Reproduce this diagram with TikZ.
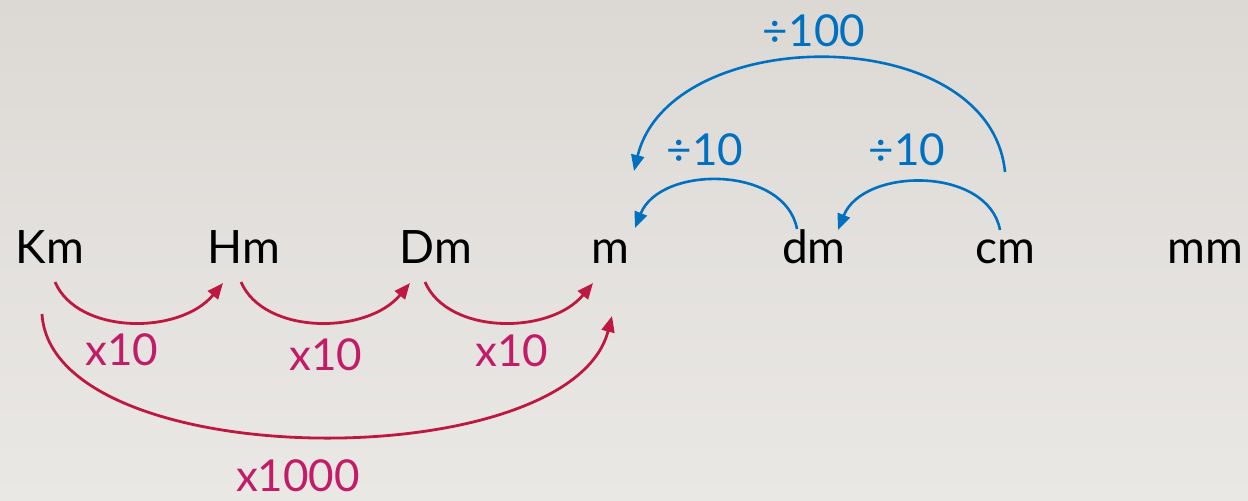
\documentclass[tikz,border=0pt]{standalone}
\usepackage{fontspec}
\setmainfont{Lato}
\usetikzlibrary{calc,arrows.meta}
\definecolor{arrred}{RGB}{190,24,64}
\definecolor{txtred}{RGB}{194,28,104}
\definecolor{myblue}{RGB}{0,112,192}
\definecolor{bgtop}{RGB}{220,217,213}
\definecolor{bgbot}{RGB}{234,232,229}
\tikzset{
  unit/.style={anchor=base, inner sep=0pt, font=\fontsize{23}{26}\selectfont, text=black},
  redlbl/.style={inner sep=0pt, font=\fontsize{22}{26}\selectfont, text=txtred},
  bluelbl/.style={inner sep=0pt, font=\fontsize{22}{26}\selectfont, text=myblue},
  redarr/.style={draw=arrred, line width=1.4pt, -{Triangle[length=8pt,width=6.5pt]}},
  bluearr/.style={draw=myblue, line width=1.3pt, -{Triangle[length=8pt,width=6.5pt]}}
}
\begin{document}
\begin{tikzpicture}[x=0.5pt,y=-0.5pt]
\useasboundingbox (0,0) rectangle (1248,500);
\shade[top color=bgtop, bottom color=bgbot] (0,0) rectangle (1248,500);
% units
\node[unit] (Km) at (50,263) {Km};
\node[unit] (Hm) at (244,263) {Hm};
\node[unit] (Dm) at (436,263) {Dm};
\node[unit] (m) at (610,263) {m};
\node[unit] (dm) at (814,263) {dm};
\node[unit] (cm) at (1005,263) {cm};
\node[unit] (mm) at (1205,263) {mm};
% red arrows
\draw[redarr] ($(Km.base)+(5,19)$) .. controls +(23,53) and +(-43,52) .. ($(Hm.base)+(-21,20)$);
\draw[redarr] ($(Hm.base)+(-3,19)$) .. controls +(23,53) and +(-43,52) .. ($(Dm.base)+(-26,20)$);
\draw[redarr] ($(Dm.base)+(-11,19)$) .. controls +(23,53) and +(-43,52) .. ($(m.base)+(-17,20)$);
\draw[redarr] ($(Km.base)+(-8,51)$) .. controls +(10,161) and +(-42,162) .. ($(m.base)+(2,53)$);
% red labels
\node[redlbl] (l1) at (122,350) {x10};
\node[redlbl] (l2) at (326,355) {x10};
\node[redlbl] (l3) at (512,351) {x10};
\node[redlbl] (l4) at (298,476) {x1000};
% blue arrows
\draw[bluearr] ($(cm.base)+(0,-91)$) .. controls +(-15,-152) and +(36,-149) .. ($(m.base)+(24,-92)$);
\draw[bluearr] ($(dm.base)+(-17,-34)$) .. controls +(-12,-64) and +(25,-63) .. ($(m.base)+(25,-35)$);
\draw[bluearr] ($(cm.base)+(-5,-33)$) .. controls +(-12,-64) and +(25,-63) .. ($(dm.base)+(24,-33)$);
% blue labels
\node[bluelbl] (b1) at (814,31) {÷100};
\node[bluelbl] (b2) at (705,150) {÷10};
\node[bluelbl] (b3) at (907,150) {÷10};
\end{tikzpicture}
\end{document}
